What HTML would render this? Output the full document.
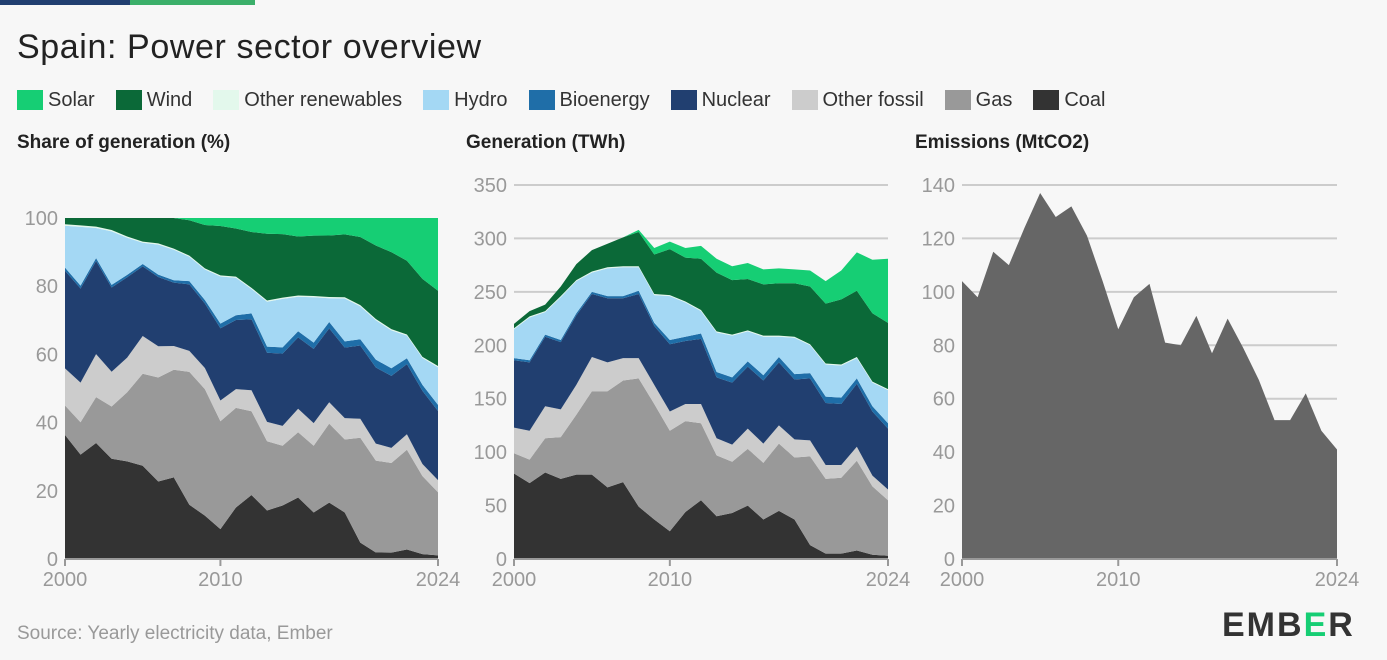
<!DOCTYPE html>
<html><head><meta charset="utf-8"><style>
body{margin:0;width:1387px;height:660px;background:#f7f7f7;font-family:"Liberation Sans",sans-serif;overflow:hidden;position:relative}
.t{position:absolute;white-space:nowrap}
</style></head><body>
<div style="position:absolute;left:0;top:0;width:130px;height:5px;background:#213F70"></div>
<div style="position:absolute;left:130px;top:0;width:125px;height:5px;background:#3BAF6A"></div>
<div class="t" style="left:17px;top:28px;font-size:34px;color:#222;letter-spacing:0.6px">Spain: Power sector overview</div>
<div id="legend" style="position:absolute;left:17px;top:89px;height:22px;display:flex;font-size:20px;color:#333"></div>
<div class="t" style="left:17px;top:132px;font-size:19px;font-weight:bold;color:#222">Share of generation (%)</div>
<div class="t" style="left:466px;top:132px;font-size:19px;font-weight:bold;color:#222">Generation (TWh)</div>
<div class="t" style="left:915px;top:132px;font-size:19px;font-weight:bold;color:#222">Emissions (MtCO2)</div>
<div class="t" style="left:17px;top:623px;font-size:19px;color:#999">Source: Yearly electricity data, Ember</div>
<div class="t" style="left:1222px;top:606px;font-size:34px;font-weight:bold;color:#333;letter-spacing:2px">EMB<span style="color:#16CE74">E</span>R</div>
<svg id="svg" width="1387" height="660" style="position:absolute;left:0;top:0"></svg>
<script>
const years=[2000,2001,2002,2003,2004,2005,2006,2007,2008,2009,2010,2011,2012,2013,2014,2015,2016,2017,2018,2019,2020,2021,2022,2023,2024];
const seriesNames=["Coal","Gas","Other fossil","Nuclear","Bioenergy","Hydro","Other renewables","Wind","Solar"];
const coal=[80,71,81,75,79,79,67,72,49,37,26,44,55,40,43,50,37,45,37,13,5,5,8,4,3];
const gas=[19,22,32,39,56,78,90,95,120,108,94,85,72,57,48,53,53,63,58,83,70,71,84,64,52];
const otherFossil=[24,27,30,26,28,32,27,21,19,18,18,16,18,16,16,19,18,17,17,15,13,12,13,10,10];
const nuclear=[63,64,65,63,65,59,60,56,60,55,63,59,61,57,58,58,59,59,56,58,58,57,59,60,57];
const bioenergy=[2,2,2,2,2,2,2,2,3,3,4,4,5,5,5,5,5,5,5,5,6,6,5,5,5];
const hydro=[27,40,21,40,30,18,26,27,22,26,41,32,21,37,39,28,36,19,34,26,30,30,19,22,31];
const otherRen=[1,1,1,1,1,1,1,1,1,1,1,1,1,1,1,1,1,1,1,1,1,1,1,1,1];
const wind=[4,5,6,9,15,20,22,27,32,37,43,41,48,55,51,48,48,49,50,54,56,61,62,64,62];
const solar=[0,0,0,0,0,0,0,0,2,6,7,9,12,13,13,15,14,14,13,15,21,27,36,50,60];
const emissions=[104,98,115,110,124,137,128,132,121,104,86,98,103,81,80,91,77,90,79,67,52,52,62,48,41];
const shareTicks=[0,20,40,60,80,100];
const genTicks=[0,50,100,150,200,250,300,350];
const emTicks=[0,20,40,60,80,100,120,140];
const xTicks=[2000,2010,2024];
const colors=["#333333","#999999","#CCCCCC","#213F70","#1F6EA8","#A4D8F4","#E3F8EC","#0B6938","#16CE74"];
const allSeries=[coal,gas,otherFossil,nuclear,bioenergy,hydro,otherRen,wind,solar];
const NS="http://www.w3.org/2000/svg";
const svg=document.getElementById('svg');
function el(tag,attrs,parent){const e=document.createElementNS(NS,tag);for(const k in attrs)e.setAttribute(k,attrs[k]);(parent||svg).appendChild(e);return e;}
const legOrder=[8,7,6,5,4,3,2,1,0];
const leg=document.getElementById('legend');
legOrder.forEach(i=>{const d=document.createElement('div');


d.style.cssText='display:flex;align-items:center;margin-right:21px';
d.innerHTML='<span style="display:inline-block;width:26px;height:20px;background:'+colors[i]+';margin-right:5px"></span>'+seriesNames[i];leg.appendChild(d);});
function axes(g,x0,x1,y0,y1,max,ticks,grid){
 const sx=y=>x0+(y-2000)/24*(x1-x0), sy=v=>y0-(v/max)*(y0-y1);
 ticks.forEach(t=>{ if(grid&&t>0){const l=el('line',{x1:x0,x2:x1,y1:sy(t),y2:sy(t),stroke:'#ccc','stroke-width':2},g);}
  const tx=el('text',{x:x0-7,y:sy(t)+7,'text-anchor':'end','font-size':20,fill:'#999'},g);tx.textContent=t;
  });
 xTicks.forEach(y=>{const tx=el('text',{x:sx(y),y:y0+27,'text-anchor':'middle','font-size':20,fill:'#999'},g);tx.textContent=y;
  
  el('line',{x1:sx(y),x2:sx(y),y1:y0,y2:y0+7,stroke:'#999','stroke-width':2},g);});
 return [sx,sy];
}
function stack(g,x0,x1,y0,y1,max,pct){
 const [sx,sy]=[y=>x0+(y-2000)/24*(x1-x0), v=>y0-(v/max)*(y0-y1)];
 const totals=years.map((_,i)=>allSeries.reduce((a,s)=>a+s[i],0));
 let base=years.map(()=>0);
 allSeries.forEach((s,k)=>{const top=base.map((b,i)=>b+(pct?s[i]/totals[i]*100:s[i]));
  let d='M'+years.map((y,i)=>sx(y)+','+sy(top[i])).join('L');
  for(let i=years.length-1;i>=0;i--)d+='L'+sx(years[i])+','+sy(base[i]);
  const p=el('path',{d:d+'Z',fill:colors[k]},g);
  
  
  base=top;});
}
const g1=el('g',{});
axes(g1,65,438,559,218,100,shareTicks,false);stack(g1,65,438,559,218,100,true);
el('line',{x1:65,x2:438,y1:559,y2:559,stroke:'#999','stroke-width':2},g1);
const g2=el('g',{});
axes(g2,514,888,559,185,350,genTicks,true);stack(g2,514,888,559,185,350,false);
el('line',{x1:514,x2:888,y1:559,y2:559,stroke:'#999','stroke-width':2},g2);
const g3=el('g',{});
const [ex,ey]=axes(g3,962,1337,559,185,140,emTicks,true);
let d='M'+years.map((y,i)=>ex(y)+','+ey(emissions[i])).join('L')+'L'+ex(2024)+','+ey(0)+'L'+ex(2000)+','+ey(0)+'Z';
const ep=el('path',{d:d,fill:'#666666'},g3);


el('line',{x1:962,x2:1337,y1:559,y2:559,stroke:'#999','stroke-width':2},g3);
</script>
</body></html>
